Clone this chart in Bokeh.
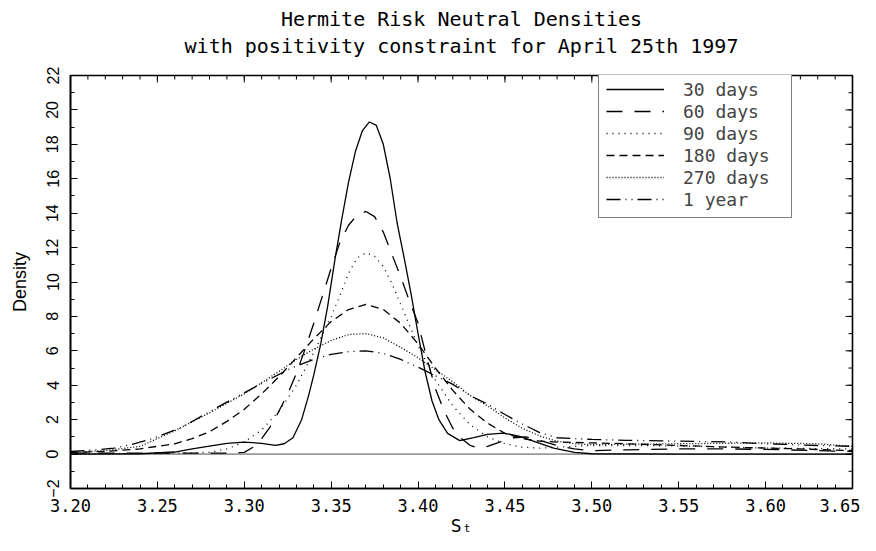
from bokeh.plotting import figure
from bokeh.models import (Range1d, FixedTicker, LinearAxis, Span, Title,
                          PrintfTickFormatter, Legend)
from bokeh.embed import file_html
from bokeh.resources import INLINE

# ---- data ----
s30 = [3.20, 3.24, 3.26, 3.27, 3.28, 3.29, 3.30, 3.31, 3.318, 3.323, 3.328, 3.333, 3.337,
       3.340, 3.344, 3.348, 3.352, 3.356, 3.360, 3.364, 3.368, 3.372, 3.376, 3.380, 3.384,
       3.388, 3.392, 3.396, 3.400, 3.404, 3.408, 3.412, 3.417, 3.424, 3.432, 3.440, 3.449,
       3.458, 3.468, 3.478, 3.490, 3.500, 3.550, 3.600, 3.650]
d30 = [0.0, 0.02, 0.12, 0.30, 0.46, 0.62, 0.70, 0.62, 0.50, 0.60, 0.95, 2.0, 3.4,
       4.6, 6.4, 8.6, 11.2, 13.6, 15.8, 17.6, 18.8, 19.3, 19.1, 18.0, 16.0,
       13.4, 11.4, 9.3, 7.0, 4.8, 3.1, 2.0, 1.2, 0.78, 0.95, 1.15, 1.22,
       1.05, 0.70, 0.35, 0.10, 0.02, 0.0, 0.0, 0.0]

s60 = [3.20, 3.25, 3.28, 3.29, 3.30, 3.305, 3.310, 3.315, 3.320, 3.325, 3.330, 3.335,
       3.340, 3.345, 3.350, 3.355, 3.360, 3.365, 3.370, 3.375, 3.380, 3.385, 3.390,
       3.395, 3.400, 3.405, 3.410, 3.415, 3.420, 3.425, 3.430, 3.435, 3.440, 3.447,
       3.455, 3.462, 3.470, 3.480, 3.490, 3.500, 3.520, 3.550, 3.580, 3.610, 3.650]
d60 = [0.05, 0.05, 0.05, 0.05, 0.10, 0.40, 0.90, 1.6, 2.5, 3.5, 4.7, 6.1,
       7.6, 9.2, 10.8, 12.3, 13.3, 13.9, 14.1, 13.8, 12.9, 11.6, 10.3,
       8.9, 7.6, 5.6, 3.8, 2.5, 1.5, 0.9, 0.5, 0.35, 0.45, 0.70,
       0.95, 1.0, 0.8, 0.5, 0.3, 0.2, 0.25, 0.3, 0.3, 0.25, 0.15]

s90 = [3.20, 3.25, 3.28, 3.29, 3.30, 3.31, 3.32, 3.33, 3.34, 3.35, 3.355, 3.36, 3.365,
       3.37, 3.375, 3.38, 3.385, 3.39, 3.395, 3.40, 3.405, 3.41, 3.42, 3.43, 3.44,
       3.45, 3.46, 3.47, 3.48, 3.50, 3.53, 3.56, 3.60, 3.65]
d90 = [0.02, 0.03, 0.10, 0.30, 0.70, 1.4, 2.5, 4.0, 5.9, 8.0, 9.2, 10.5, 11.4,
       11.7, 11.5, 10.9, 9.9, 8.7, 7.5, 6.3, 5.3, 4.3, 2.8, 1.7, 1.0,
       0.6, 0.4, 0.35, 0.4, 0.5, 0.5, 0.45, 0.35, 0.3]

s180 = [3.20, 3.22, 3.24, 3.26, 3.27, 3.28, 3.29, 3.30, 3.31, 3.32, 3.33, 3.34, 3.35,
        3.36, 3.37, 3.38, 3.39, 3.40, 3.41, 3.42, 3.43, 3.44, 3.45, 3.46, 3.47, 3.48,
        3.50, 3.52, 3.55, 3.58, 3.62, 3.65]
d180 = [0.10, 0.15, 0.30, 0.60, 0.90, 1.3, 1.9, 2.6, 3.5, 4.5, 5.6, 6.7, 7.7,
        8.4, 8.7, 8.4, 7.6, 6.4, 5.0, 3.7, 2.6, 1.8, 1.2, 0.9, 0.75, 0.7,
        0.65, 0.6, 0.5, 0.4, 0.3, 0.2]

s270 = [3.20, 3.22, 3.24, 3.26, 3.28, 3.30, 3.32, 3.33, 3.34, 3.35, 3.36, 3.37, 3.38,
        3.39, 3.40, 3.41, 3.42, 3.43, 3.44, 3.45, 3.46, 3.47, 3.48, 3.49, 3.50, 3.55,
        3.60, 3.63, 3.65]
d270 = [0.10, 0.20, 0.45, 1.35, 2.4, 3.5, 4.8, 5.5, 6.1, 6.6, 6.95, 7.0, 6.75,
        6.2, 5.6, 4.9, 4.2, 3.4, 2.8, 2.1, 1.5, 1.05, 0.75, 0.6, 0.55, 0.6,
        0.65, 0.6, 0.45]

s1y = [3.20, 3.215, 3.225, 3.235, 3.246, 3.263, 3.286, 3.308, 3.327, 3.34, 3.35, 3.36,
       3.37, 3.38, 3.39, 3.40, 3.41, 3.42, 3.43, 3.44, 3.45, 3.46, 3.47, 3.48, 3.49,
       3.50, 3.52, 3.55, 3.58, 3.60, 3.63, 3.65]
d1y = [0.15, 0.25, 0.35, 0.55, 0.87, 1.5, 2.8, 4.0, 5.0, 5.5, 5.8, 5.95,
       6.0, 5.85, 5.5, 5.05, 4.55, 4.05, 3.4, 2.9, 2.3, 1.75, 1.25, 0.95, 0.9,
       0.85, 0.8, 0.75, 0.7, 0.6, 0.5, 0.45]

labels = ["30 days", "60 days", "90 days", "180 days", "270 days", "1 year"]
x_ticks = [3.20, 3.25, 3.30, 3.35, 3.40, 3.45, 3.50, 3.55, 3.60, 3.65]
y_ticks = [-2, 0, 2, 4, 6, 8, 10, 12, 14, 16, 18, 20, 22]
x_minor = [round(3.20 + 0.01 * i, 2) for i in range(46)]
y_minor = list(range(-2, 23))

title1 = "Hermite Risk Neutral Densities"
title2 = "with positivity constraint for April 25th 1997"

X0, X1, Y0, Y1 = 3.20, 3.65, -2, 22
W, H = 860, 542
BL, BR, BT, BB = 70, 8, 75, 54

MONO = "DejaVu Sans Mono"

p = figure(width=W, height=H, output_backend="svg", toolbar_location=None,
           x_range=Range1d(X0, X1), y_range=Range1d(Y0, Y1),
           min_border_left=BL, min_border_right=BR, min_border_top=BT,
           min_border_bottom=BB, x_axis_type=None, y_axis_type=None)
p.background_fill_color = "white"
p.border_fill_color = "white"
p.outline_line_color = "black"
p.outline_line_width = 1.6
p.xgrid.visible = False
p.ygrid.visible = False
p.title.visible = False

xa = LinearAxis(ticker=FixedTicker(ticks=x_ticks, minor_ticks=x_minor),
                formatter=PrintfTickFormatter(format="%.2f"))
ya = LinearAxis(ticker=FixedTicker(ticks=y_ticks, minor_ticks=y_minor))
for ax in (xa, ya):
    ax.major_tick_in = 7
    ax.major_tick_out = 0
    ax.minor_tick_in = 4
    ax.minor_tick_out = 0
    ax.major_tick_line_color = "black"
    ax.minor_tick_line_color = "black"
    ax.axis_line_color = "black"
    ax.axis_line_width = 1.6
    ax.axis_label_text_font_style = "normal"
    ax.axis_label_text_color = "black"
    ax.major_label_text_color = "black"

xa.major_label_text_font = MONO
xa.major_label_text_font_size = "17px"
xa.major_label_standoff = 10
xa.axis_label = "S\u209c"
xa.axis_label_text_font = MONO
xa.axis_label_text_font_size = "18px"
xa.axis_label_standoff = 0

ya.major_label_text_font = "Liberation Sans"
ya.major_label_text_font_size = "16px"
ya.major_label_orientation = "vertical"
ya.major_label_standoff = 12
ya.axis_label = "Density"
ya.axis_label_text_font = "Liberation Sans"
ya.axis_label_text_font_size = "18px"
ya.axis_label_standoff = 14

p.add_layout(xa, "below")
p.add_layout(ya, "left")

# second title line: label of a tick-less axis above the frame
ta = LinearAxis(ticker=FixedTicker(ticks=[], minor_ticks=[]))
ta.axis_line_color = None
ta.major_tick_line_color = None
ta.minor_tick_line_color = None
ta.major_tick_in = 0
ta.major_tick_out = 0
ta.minor_tick_in = 0
ta.minor_tick_out = 0
ta.major_label_standoff = 0
ta.axis_label = title2
ta.axis_label_text_font = MONO
ta.axis_label_text_font_size = "20px"
ta.axis_label_text_font_style = "normal"
ta.axis_label_text_color = "black"
ta.axis_label_standoff = 18
p.add_layout(ta, "above")

t1 = Title(text=title1, align="center", text_font=MONO, text_font_size="20px",
           text_font_style="normal", text_color="black", standoff=0)
p.add_layout(t1, "above")

# inward ticks on the top and right frame edges
fw = W - BL - BR
fh = H - BT - BB
dx = (X1 - X0) / fw
dy = (Y1 - Y0) / fh
p.segment(x0=x_minor, y0=[Y1] * len(x_minor), x1=x_minor,
          y1=[Y1 - 4 * dy] * len(x_minor), line_color="black", line_width=1)
p.segment(x0=x_ticks, y0=[Y1] * len(x_ticks), x1=x_ticks,
          y1=[Y1 - 7 * dy] * len(x_ticks), line_color="black", line_width=1)
p.segment(x0=[X1] * len(y_minor), y0=y_minor, x1=[X1 - 4 * dx] * len(y_minor),
          y1=y_minor, line_color="black", line_width=1)
p.segment(x0=[X1] * len(y_ticks), y0=y_ticks, x1=[X1 - 7 * dx] * len(y_ticks),
          y1=y_ticks, line_color="black", line_width=1)

zero = Span(location=0, dimension="width", line_color="#9a9a9a", line_width=1.6,
            level="underlay")
p.add_layout(zero)

series = [(s30, d30, None), (s60, d60, "16 12"), (s90, d90, "1 5"),
          (s180, d180, "8 5"), (s270, d270, "1 2"), (s1y, d1y, "14 5 1 5 1 5")]
items = []
for (xs, ys, dash), lab in zip(series, labels):
    kw = {}
    if dash:
        kw["line_dash"] = dash
    r = p.line(xs, ys, line_color="black", line_width=1.3, **kw)
    items.append((lab, [r]))

legend = Legend(items=items, location=(528, 270))
legend.label_text_font = MONO
legend.label_text_font_size = "18px"
legend.glyph_width = 58
legend.glyph_height = 22
legend.label_height = 22
legend.label_width = 101
legend.label_standoff = 19
legend.padding = 7
legend.spacing = 0
legend.margin = 0
legend.border_line_color = "black"
legend.border_line_width = 1.3
legend.background_fill_color = "white"
legend.background_fill_alpha = 1.0
p.add_layout(legend, "center")

open("out.html", "w").write(file_html(p, INLINE))
